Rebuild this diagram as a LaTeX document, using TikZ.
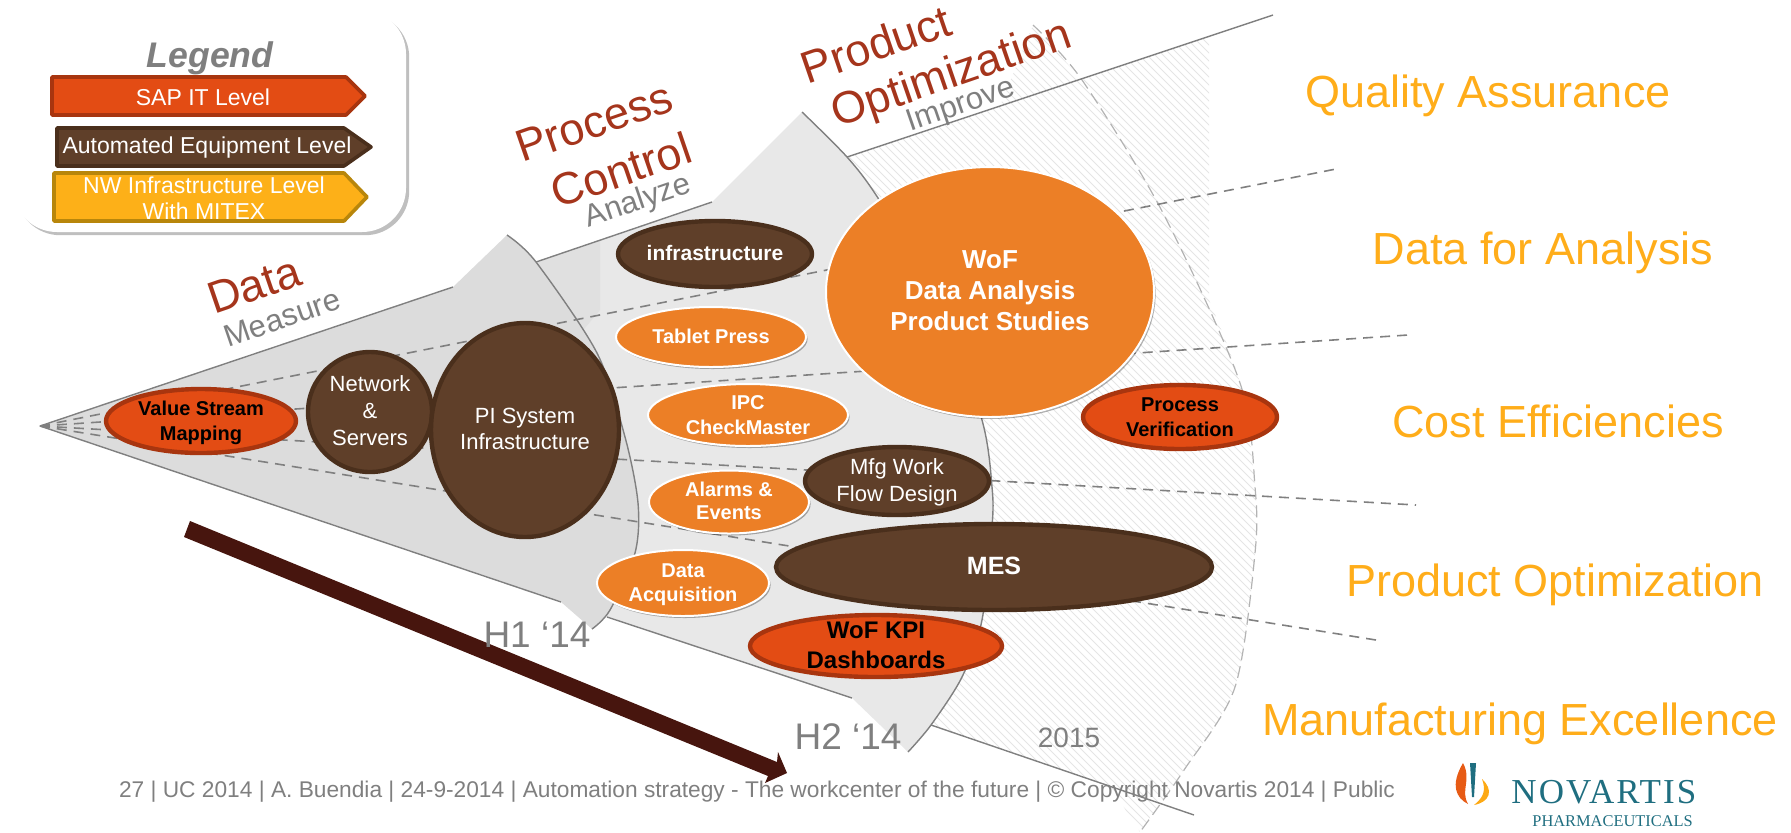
\documentclass[tikz,border=0pt]{standalone}
\usepackage{fontspec}
\setmainfont{Liberation Sans}
\newfontfamily\logofont[LetterSpace=6]{Liberation Serif}
\newfontfamily\logofontb{Liberation Serif}
\usetikzlibrary{shapes.geometric,shadows}
\definecolor{sapfill}{HTML}{E34C14}
\definecolor{sapline}{HTML}{A8350F}
\definecolor{brownfill}{HTML}{5F3F29}
\definecolor{brownline}{HTML}{4A2F1C}
\definecolor{nwfill}{HTML}{FDB018}
\definecolor{nwline}{HTML}{B8860B}
\definecolor{orangefill}{HTML}{EC7F26}
\definecolor{heading}{HTML}{A5351C}
\definecolor{greytext}{HTML}{7F7F7F}
\definecolor{sectorA}{HTML}{DCDCDC}
\definecolor{sectorB}{HTML}{E8E8E8}
\definecolor{sectorC}{HTML}{E0E0E0}
\definecolor{edgegrey}{HTML}{808080}
\definecolor{rightlabel}{HTML}{FFAD1A}
\definecolor{bigarrow}{HTML}{47150E}
\definecolor{logoteal}{HTML}{1F6E80}
\newcommand\ovt[1]{\raisebox{\dimexpr-.25em-4.2pt\relax}{\makebox[0pt]{\smash{\begin{tabular}[c]{@{}c@{}}#1\end{tabular}}}}}
\newcommand\fs[2]{\fontsize{#1}{#2}\selectfont}
\tikzset{
  x=.5pt,y=-.5pt,
  oval/.style={ellipse,inner sep=0pt,outer sep=0pt},
  sapoval/.style={oval,fill=sapfill,draw=sapline,line width=2.2pt,text=black,font=\bfseries},
  brownoval/.style={oval,fill=brownfill,draw=brownline,line width=2.2pt,text=white},
  orangeoval/.style={oval,fill=orangefill,draw=white,line width=1pt,text=white,font=\bfseries,
     drop shadow={shadow xshift=.8pt,shadow yshift=-1pt,fill=black,opacity=.3}},
  edgeline/.style={draw=edgegrey,line width=.7pt},
  raydash/.style={draw=edgegrey,line width=.8pt,dash pattern=on 5pt off 3.5pt},
  outerdash/.style={draw=edgegrey!60,line width=.6pt,dash pattern=on 6pt off 3pt},
  heading/.style={text=heading,font=\fs{22.5}{25},rotate=19,inner sep=0pt,align=center},
  phase/.style={text=greytext,font=\fs{15.5}{18},rotate=19,inner sep=0pt},
  rightlab/.style={text=rightlabel,font=\fs{22.5}{25},inner sep=0pt},
  period/.style={text=greytext,font=\fs{18.5}{20},inner sep=0pt},
  legtext/.style={text=white,font=\fs{11.5}{13},inner sep=0pt,align=center},
}
\begin{document}
\begin{tikzpicture}
\useasboundingbox (0,0) rectangle (1791,832);
% hatched 2015 band
\begin{scope}
\clip (847,157) -- (1000,106) -- (1033,25) -- (1082,80) -- (1209,36) -- (1209,300)
  -- plot[smooth] coordinates {(1209,300) (1240,383) (1255,487) (1255,553) (1235,687) (1184,770) (1140,832)}
  -- (1110,786) -- plot[smooth] coordinates {(931,725) (962,677) (982,620) (992,527) (992,487) (982,420) (940,300) (878,198) (847,157)} -- cycle;
\foreach \k in {-900,-892,...,1300} \draw[black!10,line width=.5pt] (\k,0) -- (\k+840,840);
\end{scope}
\draw[outerdash] plot[smooth] coordinates {(1033,25) (1082,80) (1163,213) (1240,383) (1255,487) (1255,553) (1235,687) (1184,770) (1140,832)};
% H2 sector
\fill[sectorB] (536,262) -- (712,202) -- (802,112) -- plot[smooth] coordinates {(802,112) (847,157) (878,198) (940,300) (982,420) (992,487) (992,527) (982,620) (962,677) (931,725) (908,752)} -- (852,698) -- (607,617) -- cycle;
\fill[sectorC] (536,262) -- (600,240) -- (600,310) -- (575,340) -- cycle;
% H1 sector
\fill[sectorA] (40,426) -- (453,287) -- (507,235) -- plot[smooth] coordinates {(507,235) (536,262) (597,353) (625,437) (638,503) (635,553) (610,610) (592,629)} -- (561,602) -- cycle;
% edges
\coordinate (apex) at (40,426);
\coordinate (topA) at (453,287);
\coordinate (botA) at (561,602);
\coordinate (topB) at (536,262);
\coordinate (topBe) at (712,202);
\coordinate (botB) at (607,617);
\coordinate (botBe) at (852,698);
\coordinate (topC) at (847,157);
\coordinate (topCe) at (1273,15);
\coordinate (botC) at (931,725);
\coordinate (botCe) at (1194,815);
\draw[edgeline] (apex) -- (topA);
\draw[edgeline] (apex) -- (botA);
\draw[edgeline] (topB) -- (topBe);
\draw[edgeline] (botB) -- (botBe);
\draw[edgeline] (topC) -- (topCe);
\draw[edgeline] (botC) -- (botCe);
\draw[edgeline] plot[smooth] coordinates {(507,235) (536,262) (597,353) (625,437) (638,503) (635,553) (610,610) (592,629)};
\draw[edgeline] plot[smooth] coordinates {(802,112) (847,157) (878,198) (940,300) (982,420) (992,487) (992,527) (982,620) (962,677) (931,725) (908,752)};
% rays
\coordinate (ray1) at (1336,169);
\coordinate (ray2) at (1408,335);
\coordinate (ray3) at (1416,505);
\coordinate (ray4) at (1376,640);
\draw[raydash] (apex) -- (ray1);
\draw[raydash] (apex) -- (ray2);
\draw[raydash] (apex) -- (ray3);
\draw[raydash] (apex) -- (ray4);
% big arrow
\fill[bigarrow] (190,521) -- (777,762) -- (778,752) -- (787,773) -- (765,783) -- (768,776) -- (184,537) -- cycle;
% legend
\node[rectangle,rounded corners=22pt,fill=white,minimum width=196.5pt,minimum height=111pt,inner sep=0pt,
  drop shadow={shadow xshift=1.6pt,shadow yshift=-1.6pt,fill=black,opacity=.25}] (legend) at (209.5,121) {};
\node[text=greytext,font=\bfseries\itshape\fs{17.8}{20},inner sep=0pt] (legendtitle) at (210,58) {Legend};
\draw[fill=sapfill,draw=sapline,line width=1.8pt,line join=round] (52,77) -- (346,77) -- (365,96) -- (346,115) -- (52,115) -- cycle;
\node[legtext] (lsap) at (203,97) {SAP IT Level};
\draw[fill=brownfill,draw=brownline,line width=1.8pt,line join=round] (57,128) -- (344,128) -- (371,147) -- (344,166) -- (57,166) -- cycle;
\node[legtext] (lauto) at (207,148) {Automated Equipment Level};
\draw[fill=nwfill,draw=nwline,line width=1.8pt,line join=round] (54,173) -- (344,173) -- (367,197) -- (344,221) -- (54,221) -- cycle;
\node[legtext] (lnw) at (204,198) {NW Infrastructure Level\\With MITEX};
% ovals
\node[sapoval,minimum width=95pt,minimum height=32pt] (vsm) at (201,421) {\fs{10}{12.5}\ovt{Value Stream\\Mapping}};
\node[brownoval,minimum width=62pt,minimum height=60pt] (net) at (370,412) {\fs{11}{13.5}\ovt{Network\\\&\\Servers}};
\node[brownoval,minimum width=94pt,minimum height=107pt] (pi) at (525,430) {\fs{11}{13}\ovt{PI System\\Infrastructure}};
\node[brownoval,minimum width=97pt,minimum height=33pt] (infra) at (715,254) {\fs{10.5}{12.5}\bfseries\ovt{infrastructure}};
\node[orangeoval,minimum width=95pt,minimum height=30pt] (tablet) at (711,337) {\fs{10}{12}\ovt{Tablet Press}};
\node[orangeoval,minimum width=100pt,minimum height=31pt] (ipc) at (748,415) {\fs{10}{12.5}\ovt{IPC\\CheckMaster}};
\node[orangeoval,minimum width=80pt,minimum height=31.5pt] (alarms) at (729,502) {\fs{10}{11.5}\ovt{Alarms \&\\Events}};
\node[brownoval,minimum width=92pt,minimum height=34pt] (mfg) at (897,481) {\fs{11}{13.5}\ovt{Mfg Work\\Flow Design}};
\node[brownoval,minimum width=218pt,minimum height=43pt] (mes) at (994,567) {\fs{12.5}{15}\bfseries\ovt{MES}};
\node[orangeoval,minimum width=86pt,minimum height=33pt] (daq) at (683,583) {\fs{10}{12}\ovt{Data\\Acquisition}};
\node[sapoval,minimum width=126pt,minimum height=31pt] (kpi) at (876,646) {\fs{12}{15}\ovt{WoF KPI\\Dashboards}};
\node[sapoval,minimum width=97pt,minimum height=32pt] (pv) at (1180,417) {\fs{10}{12.5}\ovt{Process\\Verification}};
\node[orangeoval,minimum width=164pt,minimum height=125pt] (wof) at (990,292) {\fs{13}{15.5}\ovt{WoF\\Data Analysis\\Product Studies}};
% headings
\node[heading] (hdata) at (254,285) {Data};
\node[phase] (pmeasure) at (282,318) {Measure};
\node[heading] (hproc) at (594,122) {Process};
\node[heading] (hctrl) at (621,170) {Control};
\node[phase] (panalyze) at (638,202) {Analyze};
\node[heading] (hprod) at (876,44) {Product};
\node[heading] (hopt) at (952,76) {Optimization};
\node[phase] (pimprove) at (961,106) {Improve};
% right labels
\node[rightlab] (r1) at (1488,96) {Quality Assurance};
\node[rightlab] (r2) at (1543,253) {Data for Analysis};
\node[rightlab] (r3) at (1558,421) {Cost Efficiencies};
\node[rightlab] (r4) at (1555,585) {Product Optimization};
\node[rightlab] (r5) at (1520,724) {Manufacturing Excellence};
% periods
\node[period] (h1) at (537,635) {H1 ‘14};
\node[period] (h2) at (848,737) {H2 ‘14};
\node[period,font=\fs{14}{16}] (y15) at (1069,738) {2015};
% footer
\node[text=greytext,font=\fs{11.36}{13},inner sep=0pt] (foot) at (757,792) {27 | UC 2014 | A. Buendia | 24-9-2014 | Automation strategy - The workcenter of the future | © Copyright Novartis 2014 | Public};
% logo
\fill[color=sapfill!85!nwfill] (1463,763) .. controls (1450,785) and (1456,798) .. (1468,804) .. controls (1460,790) and (1472,780) .. (1463,763) -- cycle;
\fill[color=nwfill!85!orange] (1482,779) .. controls (1494,790) and (1490,802) .. (1474,805) .. controls (1484,797) and (1486,790) .. (1482,779) -- cycle;
\fill[logoteal] (1470,763) -- (1476,763) -- (1474,797) -- (1472,797) -- cycle;
\node[text=logoteal,font=\logofont\fs{17.5}{20},inner sep=0pt,anchor=west] (novartis) at (1511,792) {NOVARTIS};
\node[text=logoteal,font=\logofontb\fs{8.2}{10},inner sep=0pt,anchor=west] (pharma) at (1532,821) {PHARMACEUTICALS};
\end{tikzpicture}
\end{document}
